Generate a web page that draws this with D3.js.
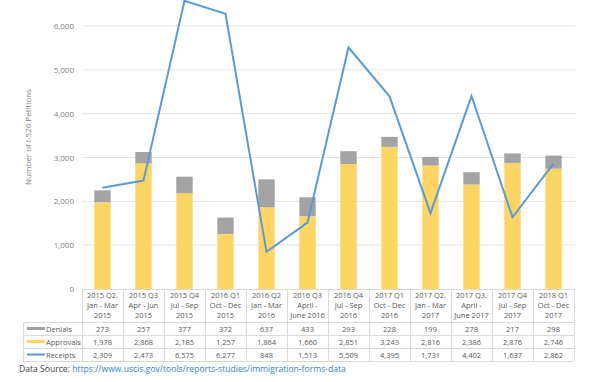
<!DOCTYPE html>
<html>
<head>
<meta charset="utf-8">
<script src="https://cdn.jsdelivr.net/npm/d3@7"></script>
<style>
  body { margin: 0; background: #fff; }
  svg { font-family: "Open Sans", "Liberation Sans", sans-serif; }
</style>
</head>
<body>
<div id="chart"></div>
<script>
const quarters = ["2015 Q2.", "2015 Q3", "2015 Q4", "2016 Q1", "2016 Q2", "2016 Q3", "2016 Q4", "2017 Q1", "2017 Q2.", "2017 Q3.", "2017 Q4", "2018 Q1"]
const periods = ["Jan - Mar", "Apr - Jun", "Jul - Sep", "Oct - Dec", "Jan - Mar", "April -", "Jul - Sep", "Oct - Dec", "Jan - Mar", "April -", "Jul - Sep", "Oct - Dec"]
const years = ["2015", "2015", "2015", "2015", "2016", "June 2016", "2016", "2016", "2017", "June 2017", "2017", "2017"]
const denials = [273, 257, 377, 372, 637, 433, 293, 228, 199, 278, 217, 298]
const approvals = [1978, 2868, 2185, 1257, 1864, 1660, 2851, 3243, 2816, 2386, 2876, 2746]
const receipts = [2309, 2473, 6575, 6277, 848, 1513, 5509, 4395, 1731, 4402, 1637, 2862]
const yTicks = [0, 1000, 2000, 3000, 4000, 5000, 6000]

const width = 600, height = 382
const left = 82, right = 574, zeroY = 289, topY = 26

const svg = d3.select("#chart").append("svg")
  .attr("width", width).attr("height", height)

let x = d3.scaleBand().domain(quarters).range([left, right]).paddingInner(0).paddingOuter(0)
let y = d3.scaleLinear().domain([0, 6000]).range([zeroY, topY])
const fmt = d3.format(",")

// gridlines
svg.append("g").selectAll("line")
  .data(yTicks.slice(1))
  .enter().append("line")
  .attr("x1", left).attr("x2", right + 1)
  .attr("y1", d => y(d)).attr("y2", d => y(d))
  .attr("stroke", "#e3e3e3").attr("stroke-width", 1)

// y axis labels
svg.append("g").selectAll("text")
  .data(yTicks)
  .enter().append("text")
  .attr("x", 74).attr("y", d => y(d) + 3)
  .attr("text-anchor", "end")
  .attr("font-size", 8).attr("fill", "#7f7f7f")
  .text(d => fmt(d))

svg.append("text")
  .attr("transform", "translate(31,137) rotate(-90)")
  .attr("text-anchor", "middle")
  .attr("font-size", 8).attr("fill", "#7f7f7f")
  .text("Number of I-526 Petitions")

// stacked bars
const barW = x.bandwidth() * 0.4
const bars = svg.append("g")
bars.selectAll("rect.app")
  .data(quarters)
  .enter().append("rect")
  .attr("x", d => x(d) + (x.bandwidth() - barW) / 2)
  .attr("width", barW)
  .attr("y", (d, i) => y(approvals[i]))
  .attr("height", (d, i) => y(0) - y(approvals[i]))
  .attr("fill", "#fdd564")
bars.selectAll("rect.den")
  .data(quarters)
  .enter().append("rect")
  .attr("x", d => x(d) + (x.bandwidth() - barW) / 2)
  .attr("width", barW)
  .attr("y", (d, i) => y(approvals[i] + denials[i]))
  .attr("height", (d, i) => y(approvals[i]) - y(approvals[i] + denials[i]))
  .attr("fill", "#a3a3a3")

// receipts line
let line = d3.line()
  .x((d, i) => x(quarters[i]) + x.bandwidth() / 2)
  .y(d => y(d))
svg.append("path")
  .datum(receipts)
  .attr("d", line)
  .attr("fill", "none")
  .attr("stroke", "#5b9bd5")
  .attr("stroke-width", 2)
  .attr("stroke-linejoin", "miter")

// data table
const grid = "#d9d9d9"
const headTop = zeroY, headBot = 322, rowH = 13
const tableLeft = 23
const rows = [
  { name: "Denials", vals: denials, color: "#a3a3a3", h: 3 },
  { name: "Approvals", vals: approvals, color: "#fdd564", h: 3 },
  { name: "Receipts", vals: receipts, color: "#5b9bd5", h: 2 }
]
const table = svg.append("g")

// horizontal borders
table.append("line").attr("x1", left).attr("x2", right).attr("y1", headTop + 0.5).attr("y2", headTop + 0.5).attr("stroke", grid)
for (let r = 0; r <= rows.length; r++) {
  let yy = headBot + r * rowH + 0.5
  table.append("line").attr("x1", tableLeft).attr("x2", right).attr("y1", yy).attr("y2", yy).attr("stroke", grid)
}
// vertical borders
table.selectAll("line.v")
  .data(quarters.concat(["end"]))
  .enter().append("line")
  .attr("x1", (d, i) => Math.round(left + i * x.bandwidth()) + 0.5)
  .attr("x2", (d, i) => Math.round(left + i * x.bandwidth()) + 0.5)
  .attr("y1", headTop).attr("y2", headBot + rows.length * rowH)
  .attr("stroke", grid)
table.append("line").attr("x1", tableLeft + 0.5).attr("x2", tableLeft + 0.5)
  .attr("y1", headBot).attr("y2", headBot + rows.length * rowH).attr("stroke", grid)

// header text
const head = table.selectAll("text.h")
  .data(quarters)
  .enter().append("text")
  .attr("text-anchor", "middle")
  .attr("font-size", 7.5).attr("fill", "#595959")
head.append("tspan").attr("x", d => x(d) + x.bandwidth() / 2).attr("y", 298).text(d => d)
head.append("tspan").attr("x", d => x(d) + x.bandwidth() / 2).attr("y", 308).text((d, i) => periods[i])
head.append("tspan").attr("x", d => x(d) + x.bandwidth() / 2).attr("y", 318).text((d, i) => years[i])

// rows
rows.forEach((row, r) => {
  let cy = headBot + r * rowH + rowH / 2
  table.append("rect")
    .attr("x", 27).attr("y", cy - row.h / 2)
    .attr("width", 18).attr("height", row.h)
    .attr("fill", row.color)
  table.append("text")
    .attr("x", 46).attr("y", cy + 3)
    .attr("font-size", 7.5).attr("fill", "#595959")
    .text(row.name)
  table.selectAll(null)
    .data(row.vals)
    .enter().append("text")
    .attr("x", (d, i) => x(quarters[i]) + x.bandwidth() / 2)
    .attr("y", cy + 3)
    .attr("text-anchor", "middle")
    .attr("font-size", 7.5).attr("fill", "#595959")
    .text(d => fmt(d))
})

// data source
const src = svg.append("text")
  .attr("x", 19).attr("y", 372)
  .attr("font-size", 8.6)
src.append("tspan").attr("fill", "#404040").text("Data Source: ")
src.append("tspan").attr("fill", "#2e86c1").text("https://www.uscis.gov/tools/reports-studies/immigration-forms-data")
</script>
</body>
</html>
